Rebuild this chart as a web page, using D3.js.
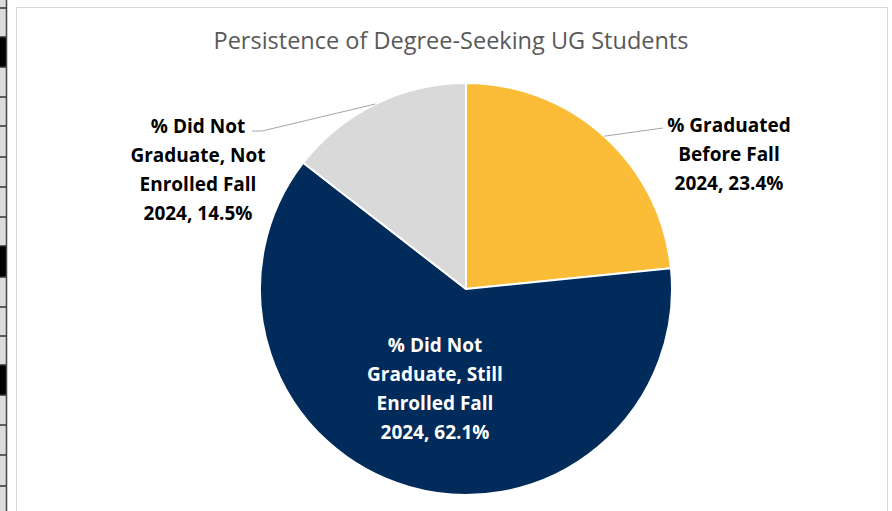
<!DOCTYPE html>
<html>
<head>
<meta charset="utf-8">
<script src="https://cdn.jsdelivr.net/npm/d3@7"></script>
<style>
  body { margin: 0; background: #fff; }
  svg { display: block; }
  .title { font-family: "Open Sans", sans-serif; font-size: 23.5px; fill: #595959; }
  .lbl { font-family: "Open Sans", sans-serif; font-size: 19px; font-weight: bold; }
</style>
</head>
<body>
<svg id="chart" width="892" height="511"></svg>
<script>
// data
const categories = [
    "% Graduated Before Fall 2024",
    "% Did Not Graduate, Still Enrolled Fall 2024",
    "% Did Not Graduate, Not Enrolled Fall 2024"
];
const values = [23.4, 62.1, 14.5];
const labelLines = [
    ["% Graduated", "Before Fall", "2024, 23.4%"],
    ["% Did Not", "Graduate, Still", "Enrolled Fall", "2024, 62.1%"],
    ["% Did Not", "Graduate, Not", "Enrolled Fall", "2024, 14.5%"]
];
const colors = ["#FBBC37", "#002B5A", "#D9D9D9"];
const chartTitle = "Persistence of Degree-Seeking UG Students";

// spreadsheet rows peeking out on the left (black = selected cells)
const rowLines = [8, 37, 67, 97, 126, 157, 187, 217, 246, 277, 307, 336, 365, 395, 425, 455, 486];
const blackRows = [1, 8, 12];

const svg = d3.select("#chart");

// sheet strip
svg.append("rect").attr("x", 0).attr("y", 0).attr("width", 6).attr("height", 511).attr("fill", "#dcdcdc");
svg.selectAll(".cell").data(rowLines.slice(0, -1)).enter().append("rect")
    .attr("x", 0).attr("y", d => d).attr("width", 6)
    .attr("height", (d, i) => rowLines[i + 1] - d)
    .attr("fill", (d, i) => blackRows.includes(i) ? "#000" : "#dcdcdc");
svg.selectAll(".rowline").data(rowLines).enter().append("line")
    .attr("x1", 0).attr("x2", 6).attr("y1", d => d).attr("y2", d => d)
    .attr("stroke", "#333").attr("stroke-width", 1.5);
svg.append("line").attr("x1", 6.5).attr("x2", 6.5).attr("y1", 0).attr("y2", 511)
    .attr("stroke", "#444").attr("stroke-width", 1.5);

// chart area border
svg.append("rect").attr("x", 16.5).attr("y", 7.5).attr("width", 871).attr("height", 520)
    .attr("fill", "#fff").attr("stroke", "#d9d9d9").attr("stroke-width", 1);

svg.append("text").attr("class", "title")
    .attr("x", 451).attr("y", 49).attr("text-anchor", "middle")
    .text(chartTitle);

const cx = 466, cy = 289, radius = 206;
const g = svg.append("g").attr("transform", `translate(${cx},${cy})`);

const pie = d3.pie().sort(null).value(d => d);
const arcs = pie(values);
const arc = d3.arc().innerRadius(0).outerRadius(radius);

g.selectAll("path.slice").data(arcs).enter().append("path")
    .attr("class", "slice")
    .attr("d", arc)
    .attr("fill", (d, i) => colors[i])
    .attr("stroke", "#fff").attr("stroke-width", 2).attr("stroke-linejoin", "round");

// label layout: outside labels get a leader line, the big slice holds its own label
const labelLayout = [
    { dx: 263, dy: -128, inside: false, elbow: [197, -161], end: [197, -161] },
    { dx: -31, dy: 106, inside: true },
    { dx: -268, dy: -113, inside: false, elbow: [-204, -158], end: [-214, -158] }
];
const edgeArc = d3.arc().innerRadius(radius).outerRadius(radius);
const lineH = 29;

arcs.forEach((a, i) => {
    const lay = labelLayout[i];
    if (!lay.inside) {
        const edge = edgeArc.centroid(a);
        g.append("polyline")
            .attr("points", [edge, lay.elbow, lay.end].map(p => p.join(",")).join(" "))
            .attr("fill", "none").attr("stroke", "#a6a6a6").attr("stroke-width", 1);
    }
    const lines = labelLines[i];
    const t = g.append("text").attr("class", "lbl")
        .attr("text-anchor", "middle")
        .attr("fill", lay.inside ? "#fff" : "#000")
        .attr("x", lay.dx).attr("y", lay.dy - (lines.length - 1) * lineH / 2);
    lines.forEach((s, k) => {
        t.append("tspan").attr("x", lay.dx).attr("dy", k === 0 ? 0 : lineH).text(s);
    });
});
</script>
</body>
</html>
